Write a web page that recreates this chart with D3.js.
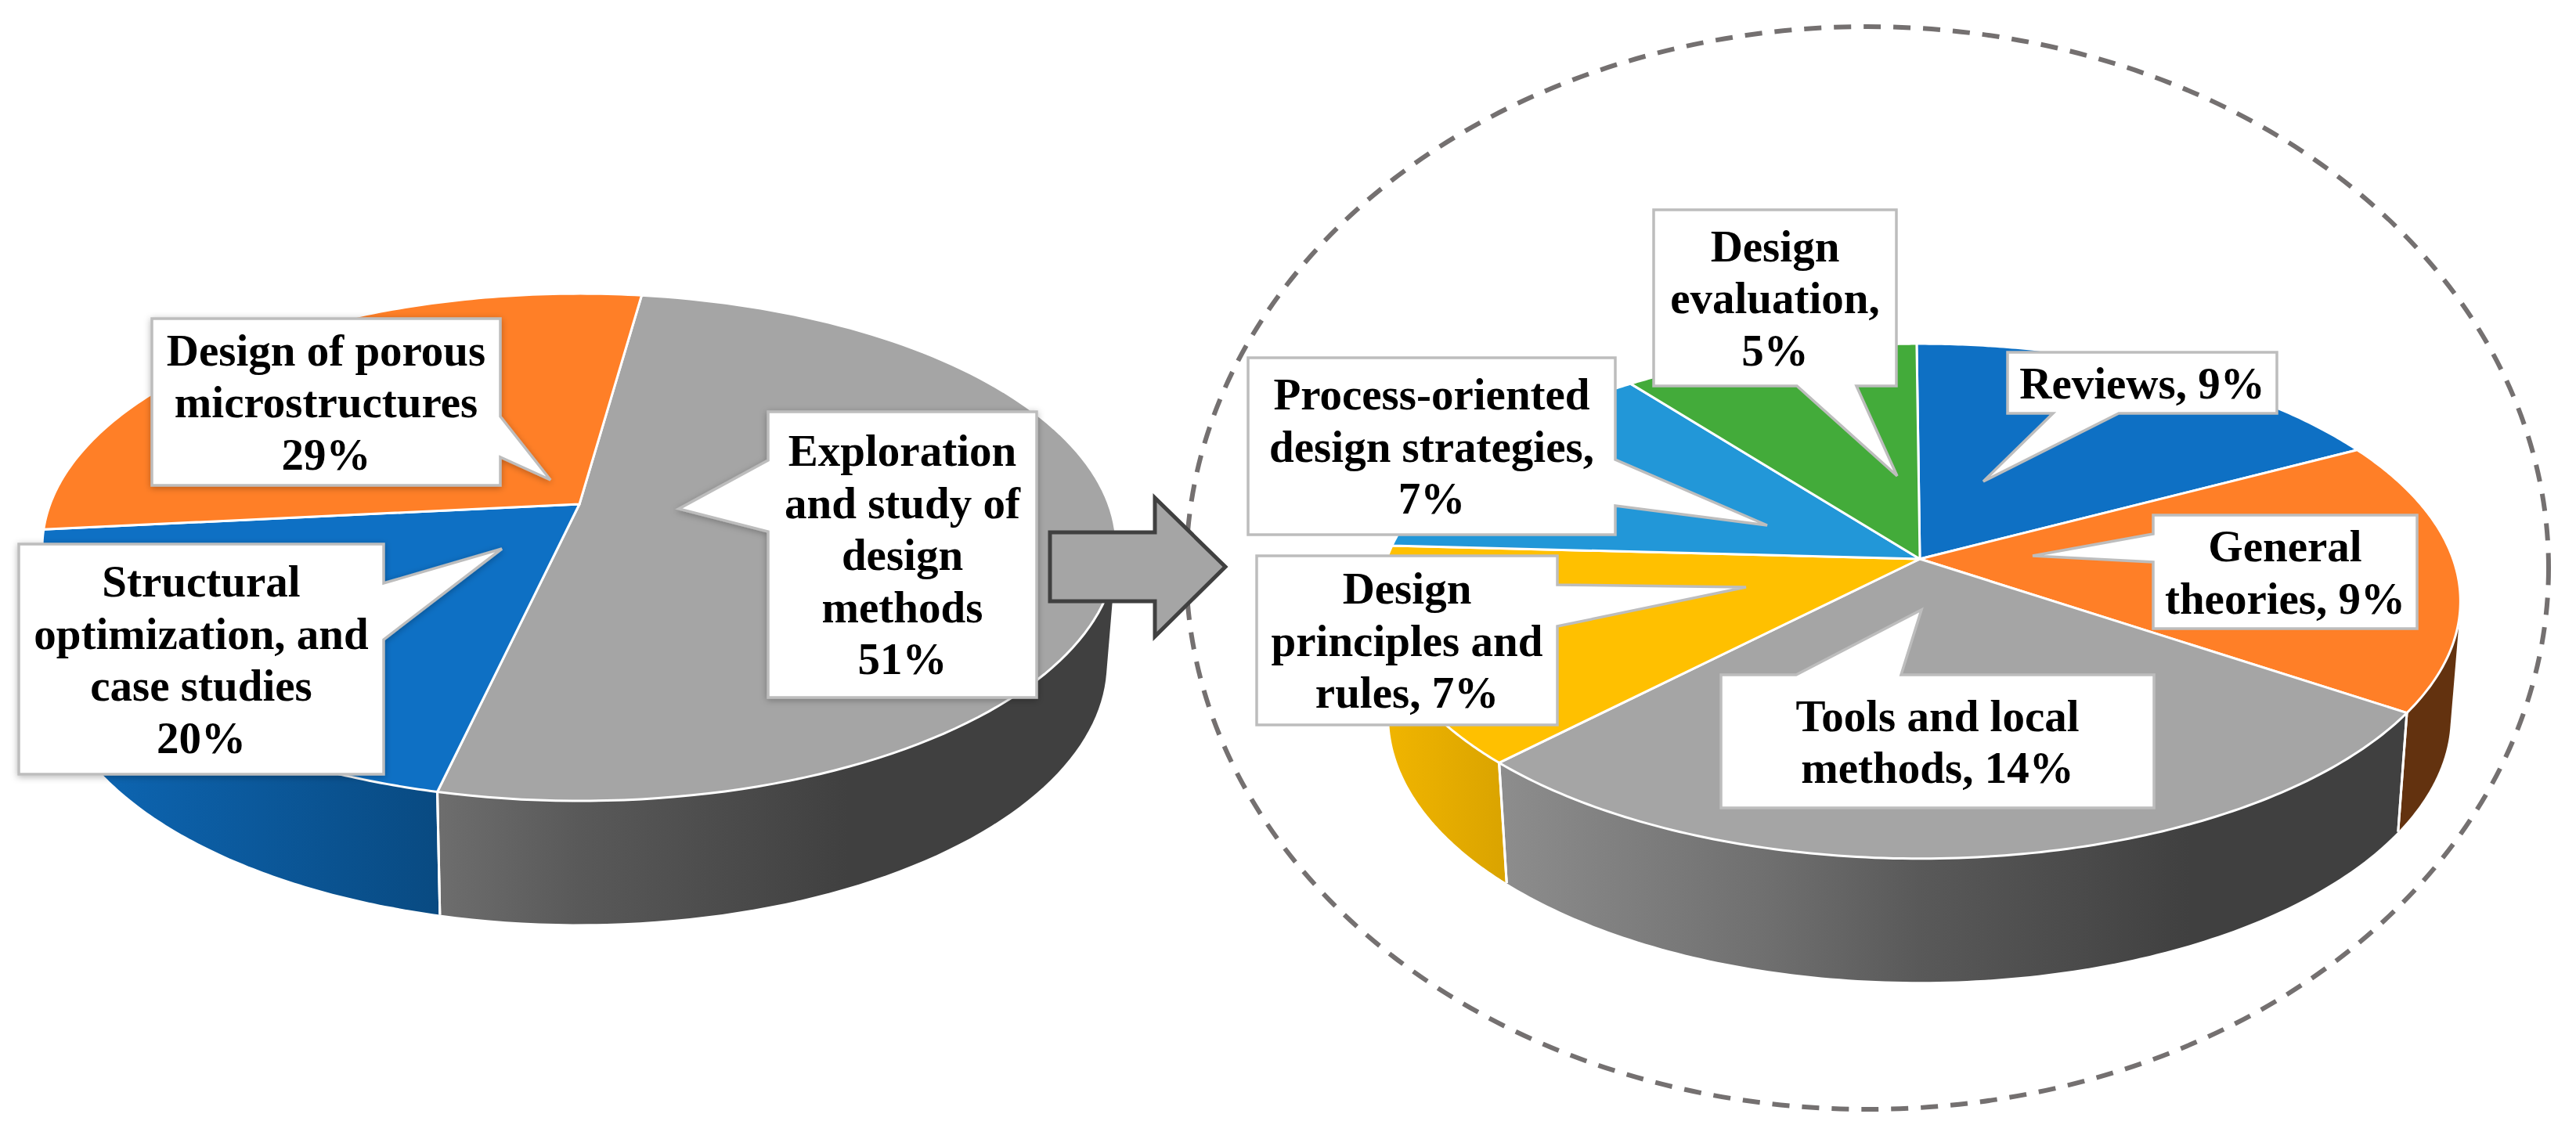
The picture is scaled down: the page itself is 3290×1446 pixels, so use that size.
<!DOCTYPE html>
<html>
<head>
<meta charset="utf-8">
<script src="https://cdn.jsdelivr.net/npm/d3@7/dist/d3.min.js"></script>
<style>
html,body{margin:0;padding:0;background:#fff;}
svg{display:block;}
text{font-family:"Liberation Serif","Times New Roman",serif;font-weight:700;fill:#000;}
</style>
</head>
<body>
<svg id="chart" width="3290" height="1446"></svg>
<script>
// ---- data (slice sizes; printed labels are their rounded form) ----
const leftCategories = ["Exploration and study of design methods","Structural optimization, and case studies","Design of porous microstructures"];
const leftValues = [51.4,19.8,28.8];
const leftColors = ["#A5A5A5","#0E70C4","#FF7F27"];
const rightCategories = ["Reviews","General theories","Tools and local methods","Design principles and rules","Process-oriented design strategies","Design evaluation"];
const rightValues = [8.85,8.77,14.2,6.94,6.96,5.3];
const rightColors = ["#0E70C4","#FF7F27","#A5A5A5","#FFC000","#2297D8","#43AB3A"];

const leftLabels = [
  ["Exploration","and study of","design","methods","51%"],
  ["Structural","optimization, and","case studies","20%"],
  ["Design of porous","microstructures","29%"]
];
const rightLabels = [
  ["Reviews, 9%"],
  ["General","theories, 9%"],
  ["Tools and local","methods, 14%"],
  ["Design","principles and","rules, 7%"],
  ["Process-oriented","design strategies,","7%"],
  ["Design","evaluation,","5%"]
];

// ---- layout ----
const W = 3290, H = 1446, FONT = 57;
const leftBoxes = [
  {box:[981,526,1324,891], ptr:[[981,679],[867,650],[981,588]]},
  {box:[24,695,490,989],   ptr:[[490,745],[641,701],[490,817]]},
  {box:[194,407,639,620],  ptr:[[639,532],[703,613],[639,584]]}
];
const rightBoxes = [
  {box:[2564,450,2908,528],  ptr:[[2706,528],[2533,615],[2622,528]]},
  {box:[2750,658,3087,803],  ptr:[[2750,718],[2596,710],[2750,682]]},
  {box:[2198,862,2751,1032], ptr:[[2428,862],[2454,779],[2294,862]]},
  {box:[1605,710,1989,926],  ptr:[[1989,747],[2230,750],[1989,800]]},
  {box:[1594,457,2063,683],  ptr:[[2063,587],[2257,671],[2063,646]]},
  {box:[2112,268,2422,493],  ptr:[[2371,493],[2423,608],[2295,493]]}
];
const leftGeom  = {ox:740,  oy:644, sx:676, sy:314.6, p:.170, start:7.9,  depth:146};
const rightGeom = {ox:2452, oy:714, sx:681, sy:320,   p:.164, start:-0.4, depth:146};
const WALL_SX = .982, WALL_SY = 1.03;
// wall shading across the pie's width: [fraction, multiplier]
const shadeStops = [[0,.95],[.12,.85],[.36,.67],[.5,.54],[.75,.39],[1,.39]];

const svg = d3.select("#chart");
const defs = svg.append("defs");
const shadow = defs.append("filter").attr("id","soft").attr("x","-10%").attr("y","-10%").attr("width","120%").attr("height","120%");
shadow.append("feDropShadow").attr("dx",0).attr("dy",2).attr("stdDeviation",4).attr("flood-color","#000").attr("flood-opacity",.28);

// dashed circle behind everything
svg.append("ellipse").attr("cx",2385).attr("cy",725.5).attr("rx",870).attr("ry",691.5)
  .attr("fill","none").attr("stroke","#747070").attr("stroke-width",6).attr("stroke-dasharray","22 16");

let gid = 0;
function drawPie(values, colors, g) {
  const layer = svg.append("g");
  const toRad = Math.PI/180;
  const arcs = d3.pie().sort(null)
    .startAngle(g.start*toRad).endAngle((g.start+360)*toRad)(values);

  const rim = a => {
    const u = Math.sin(a), v = -Math.cos(a), w = 1 - g.p*v;
    return [g.sx*u/w, g.sy*v/w];
  };
  const top = a => { const r = rim(a); return [g.ox+r[0], g.oy+r[1]]; };
  const base = a => { const r = rim(a); return [g.ox+r[0]*WALL_SX, g.oy+g.depth+r[1]*WALL_SY]; };
  const samples = d => d3.range(0,121).map(i => d.startAngle+(d.endAngle-d.startAngle)*i/120);
  const line = d3.line();

  const xExt = g.sx/Math.sqrt(1-g.p*g.p);
  const gx = d3.scaleLinear().domain([0,1]).range([g.ox-xExt, g.ox+xExt]);

  // walls, far to near; the hull of rim arc + base arc gives the true silhouette
  const order = arcs.map((d,i)=>({d,i,mid:-Math.cos((d.startAngle+d.endAngle)/2)}))
    .sort((a,b)=>a.mid-b.mid);
  order.forEach(({d,i}) => {
    const id = "wall"+(gid++);
    const grad = defs.append("linearGradient").attr("id",id).attr("gradientUnits","userSpaceOnUse")
      .attr("x1",gx(0)).attr("x2",gx(1)).attr("y1",0).attr("y2",0);
    const c = d3.rgb(colors[i]);
    shadeStops.forEach(s => grad.append("stop").attr("offset",s[0])
      .attr("stop-color", d3.rgb(c.r*s[1],c.g*s[1],c.b*s[1]).formatHex()));
    const as = samples(d);
    const hull = d3.polygonHull(as.map(top).concat(as.map(base)));
    layer.append("path").attr("d",line(hull)+"Z").attr("fill","url(#"+id+")").attr("stroke","none");
  });
  arcs.forEach(d => {
    [d.startAngle,d.endAngle].forEach(a => {
      if (-Math.cos(a) > 0) layer.append("path").attr("d",line([top(a),base(a)]))
        .attr("stroke","#fff").attr("stroke-width",3).attr("fill","none");
    });
  });

  // top face
  arcs.forEach((d,i) => {
    const pts = [[g.ox,g.oy]].concat(samples(d).map(top));
    layer.append("path").attr("d",line(pts)+"Z").attr("fill",colors[i])
      .attr("stroke","#fff").attr("stroke-width",3).attr("stroke-linejoin","round");
  });
}

function drawCallouts(boxes, labels, filter) {
  const gAll = svg.append("g");
  boxes.forEach((b,i) => {
    const [x0,y0,x1,y1] = b.box;
    let [p,t,q] = b.ptr;
    let pts;
    if (p[0]===x1 && q[0]===x1) {            // right edge, going down
      if (p[1]>q[1]) [p,q]=[q,p];
      pts = [[x0,y0],[x1,y0],p,t,q,[x1,y1],[x0,y1]];
    } else if (p[0]===x0 && q[0]===x0) {     // left edge, going up
      if (p[1]<q[1]) [p,q]=[q,p];
      pts = [[x0,y0],[x1,y0],[x1,y1],[x0,y1],p,t,q];
    } else if (p[1]===y1) {                  // bottom edge, going left
      if (p[0]<q[0]) [p,q]=[q,p];
      pts = [[x0,y0],[x1,y0],[x1,y1],p,t,q,[x0,y1]];
    } else {                                 // top edge, going right
      if (p[0]>q[0]) [p,q]=[q,p];
      pts = [[x0,y0],p,t,q,[x1,y0],[x1,y1],[x0,y1]];
    }
    const path = gAll.append("path").attr("d",d3.line()(pts)+"Z")
      .attr("fill","#fff").attr("stroke","#BDBDBD").attr("stroke-width",3.5).attr("stroke-linejoin","miter");
    if (filter) path.attr("filter","url(#soft)");
    const cx=(x0+x1)/2, cy=(y0+y1)/2, lh=66.5, n=labels[i].length;
    labels[i].forEach((s,k) => {
      gAll.append("text").attr("x",cx).attr("y",cy+(k-(n-1)/2)*lh+FONT*.35)
        .attr("text-anchor","middle").attr("font-size",FONT).text(s);
    });
  });
}

drawPie(leftValues,leftColors,leftGeom);
drawCallouts(leftBoxes,leftLabels,true);
drawPie(rightValues,rightColors,rightGeom);
drawCallouts(rightBoxes,rightLabels,false);

// block arrow
const arrow = [[1341,680],[1475,680],[1475,636],[1565,724],[1475,813],[1475,768],[1341,768]];
svg.append("path").attr("d",d3.line()(arrow)+"Z").attr("fill","#A5A5A5")
  .attr("stroke","#404040").attr("stroke-width",5).attr("stroke-linejoin","miter");
</script>
</body>
</html>
